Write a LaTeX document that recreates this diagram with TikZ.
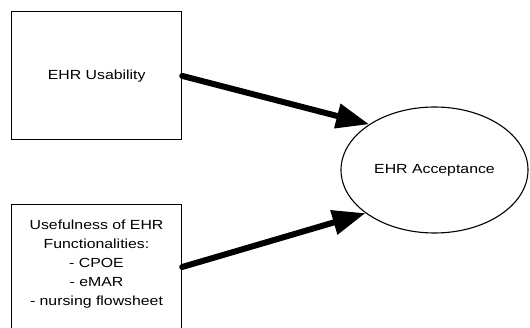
\documentclass[tikz,border=0pt]{standalone}
\usepackage{fontspec}
\setmainfont{Liberation Sans}[FakeStretch=1.2]
\usetikzlibrary{arrows.meta,shapes.geometric}
\tikzset{
  boxnode/.style={draw=black, line width=1pt, rectangle, minimum width=169.9pt, inner sep=0pt},
  accnode/.style={draw=black, line width=1.1pt, ellipse, minimum width=187pt, minimum height=126pt, inner sep=0pt},
  txt/.style={font=\fontsize{13.2}{19}\selectfont, align=center, inner sep=0pt},
  bigarrow/.style={line width=6pt, line cap=round, -{Triangle[length=33pt,width=24pt]}}
}
\begin{document}
\begin{tikzpicture}[x=1pt,y=1pt]
\useasboundingbox (0,0) rectangle (530,327);
\clip (0,0) rectangle (530,327);
\fill[white] (0,0) rectangle (530,327);
\node[boxnode, minimum height=128.2pt, txt] (b1) at (96.75,251.1) {EHR Usability};
\node[boxnode, minimum height=126pt] (b2) at (96.75,60) {};
\node[txt] (t2) at (96.5,62.5) {Usefulness of EHR\\Functionalities:\\- CPOE\\- eMAR\\- nursing flowsheet};
\node[accnode, txt] (acc) at (434.5,157) {EHR Acceptance};
\draw[bigarrow] (b1.east) -- (acc.145);
\draw[bigarrow] (b2.east) -- (acc.212);
\end{tikzpicture}
\end{document}
